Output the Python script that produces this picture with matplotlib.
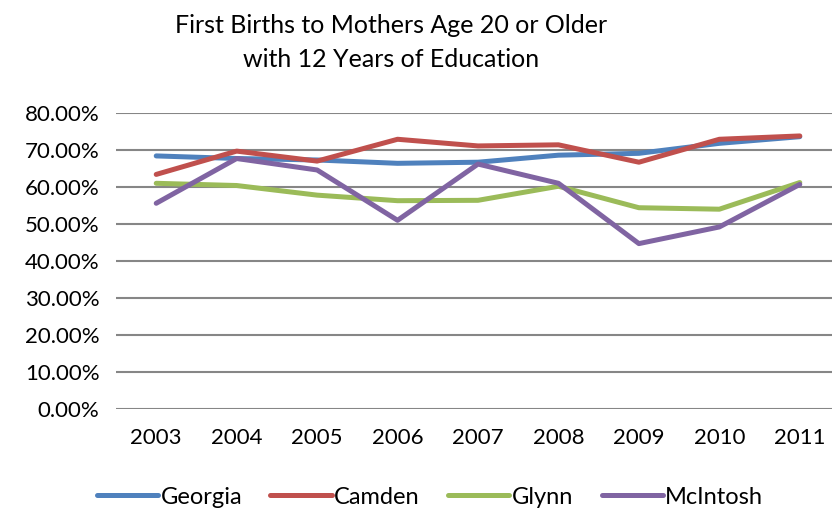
import matplotlib
matplotlib.use('Agg')
from matplotlib import pyplot as plt
from matplotlib.ticker import FuncFormatter

years = ['2003', '2004', '2005', '2006', '2007', '2008', '2009', '2010', '2011']
georgia = [68.4, 67.7, 67.3, 66.4, 66.7, 68.6, 69.1, 71.8, 73.6]
camden = [63.4, 69.7, 67.0, 72.9, 71.1, 71.4, 66.7, 72.9, 73.8]
glynn = [61.0, 60.4, 57.8, 56.3, 56.4, 60.2, 54.4, 54.0, 61.2]
mcintosh = [55.6, 67.7, 64.6, 51.0, 66.2, 61.0, 44.7, 49.2, 60.7]

plt.rcParams['font.family'] = ['Lato', 'DejaVu Sans']

fig = plt.figure(figsize=(8.32, 5.12), dpi=100)
ax = fig.add_axes([116/832, 103/512, 724/832, 296/512])

x = range(len(years))
ax.plot(x, georgia, color='#4F81BD', lw=3.6, label='Georgia', solid_capstyle='round')
ax.plot(x, camden, color='#C0504D', lw=3.6, label='Camden', solid_capstyle='round')
ax.plot(x, glynn, color='#9BBB59', lw=3.6, label='Glynn', solid_capstyle='round')
ax.plot(x, mcintosh, color='#8064A2', lw=3.6, label='McIntosh', solid_capstyle='round')

ax.set_xlim(-0.5, len(years) - 0.5)
ax.set_ylim(0, 80)
ax.set_yticks(range(0, 81, 10))
ax.yaxis.set_major_formatter(FuncFormatter(lambda v, p: '{:.2f}%'.format(v)))
ax.set_xticks(list(x))
ax.set_xticklabels(years)
ax.grid(axis='y', color='#868686', lw=1.5)
ax.set_axisbelow(True)
for s in ax.spines.values():
    s.set_visible(False)
ax.tick_params(length=0, labelsize=16, colors='black')
ax.tick_params(axis='y', pad=12)
ax.tick_params(axis='x', pad=14)

fig.text(391/832, 1 - 14/512, 'First Births to Mothers Age 20 or Older\nwith 12 Years of Education',
         ha='center', va='top', fontsize=18, linespacing=1.6)

fig.legend(loc='center', bbox_to_anchor=(430/832, 1 - 497/512), ncol=4, frameon=False,
           fontsize=17, handlelength=2.6, handletextpad=0.1, columnspacing=1.2)

plt.savefig('out.png', dpi=100)
